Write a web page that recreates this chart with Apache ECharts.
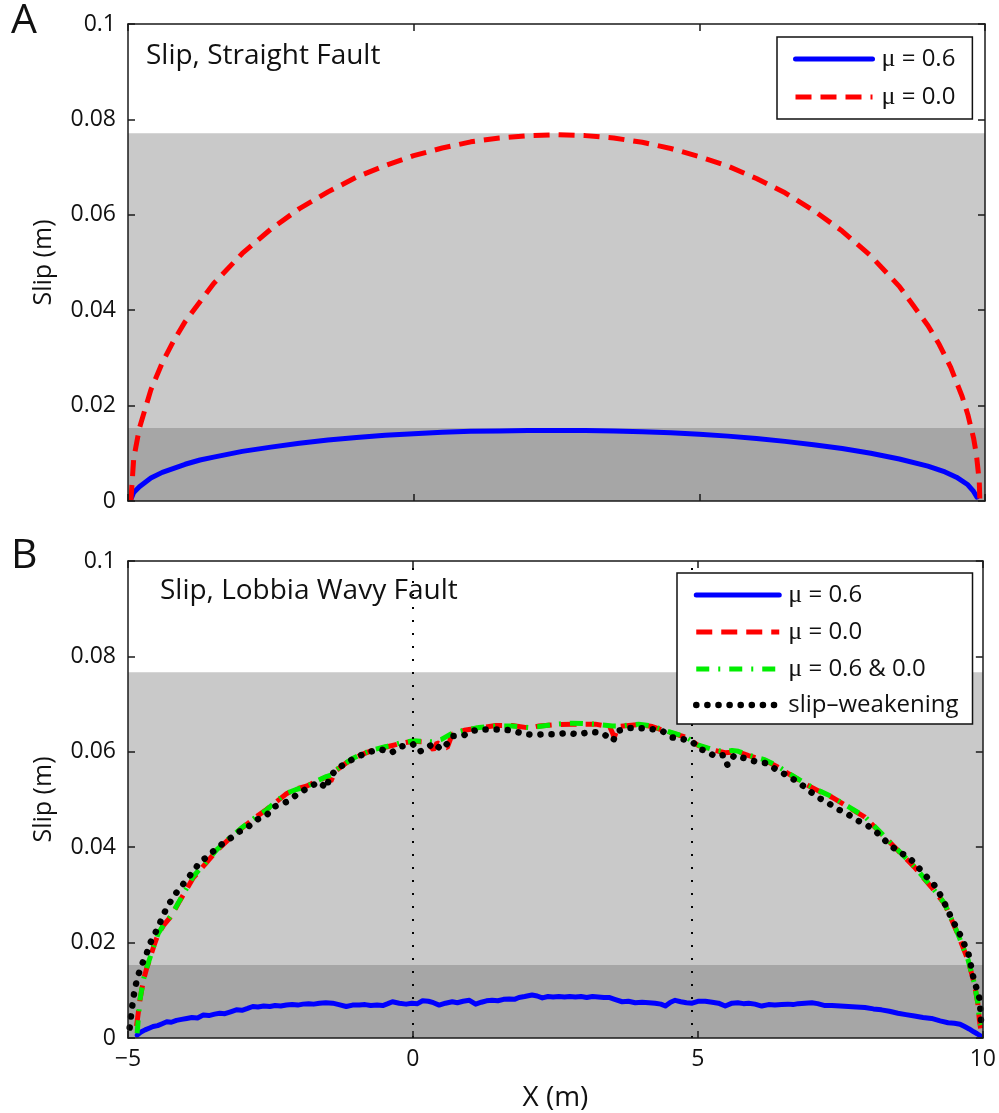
<!DOCTYPE html>
<html>
<head>
<meta charset="utf-8">
<script src="https://cdn.jsdelivr.net/npm/echarts@6/dist/echarts.min.js"></script>
<style>
html, body { margin: 0; padding: 0; background: #ffffff; }
#chart { width: 999px; height: 1113px; }
</style>
</head>
<body>
<div id="chart"></div>
<script>
// ---- Data (x in m, slip in m) ----
const xTicks = [-5, 0, 5, 10];
const yTicks = [0, 0.02, 0.04, 0.06, 0.08, 0.1];

// Panel A: straight fault
const straightMu06 = [[-4.94,0.0006],[-4.9,0.0018],[-4.8,0.0030],[-4.6,0.0048],[-4.4,0.0060],[-4.0,0.0077],[-3.74,0.0086],[-3.5,0.0092],[-3.0,0.0104],[-2.5,0.0113],[-2.0,0.0121],[-1.5,0.0128],[-1.0,0.0133],[-0.5,0.0138],[0,0.0141],[0.5,0.0144],[1,0.0146],[1.5,0.0147],[2,0.0148],[2.5,0.0148],[3,0.0148],[3.5,0.0147],[4,0.0145],[4.5,0.0143],[5,0.0140],[5.5,0.0136],[6,0.0131],[6.5,0.0125],[7,0.0118],[7.5,0.0110],[8,0.0100],[8.5,0.0088],[9,0.0073],[9.3,0.0061],[9.5,0.0050],[9.7,0.0034],[9.8,0.0020],[9.86,0.0008]];
const straightMu00 = [[-4.95,0.0],[-4.9,0.0089],[-4.8,0.0153],[-4.6,0.0233],[-4.4,0.0290],[-4.2,0.0336],[-4.0,0.0376],[-3.5,0.0456],[-3.0,0.0519],[-2.5,0.0570],[-2.0,0.0613],[-1.5,0.0648],[-1.0,0.0679],[-0.5,0.0703],[0,0.0724],[0.5,0.0740],[1,0.0753],[1.5,0.0761],[2,0.0766],[2.5,0.0768],[3,0.0766],[3.5,0.0761],[4,0.0752],[4.5,0.0739],[5,0.0722],[5.5,0.0702],[6,0.0676],[6.5,0.0646],[7,0.0609],[7.5,0.0566],[8,0.0514],[8.5,0.0450],[9,0.0368],[9.2,0.0328],[9.4,0.0280],[9.6,0.0219],[9.7,0.0181],[9.8,0.0132],[9.85,0.0097],[9.9,0.0040],[9.91,0.0]];

// Panel B: Lobbia wavy fault
const wavyMu06 = [[-4.84,0.0006],[-4.78,0.0012],[-4.7,0.0017],[-4.62,0.0021],[-4.56,0.0024],[-4.48,0.0026],[-4.4,0.0030],[-4.32,0.0034],[-4.24,0.0033],[-4.15,0.0037],[-4.06,0.0039],[-3.97,0.0041],[-3.88,0.0043],[-3.78,0.0042],[-3.68,0.0048],[-3.58,0.0047],[-3.48,0.0050],[-3.39,0.0052],[-3.3,0.0051],[-3.2,0.0055],[-3.1,0.0059],[-3.0,0.0058],[-2.9,0.0062],[-2.81,0.0066],[-2.72,0.0065],[-2.62,0.0067],[-2.51,0.0066],[-2.42,0.0068],[-2.32,0.0067],[-2.22,0.0069],[-2.12,0.0070],[-2.02,0.0069],[-1.93,0.0071],[-1.83,0.0072],[-1.74,0.0071],[-1.64,0.0073],[-1.53,0.0074],[-1.41,0.0073],[-1.3,0.0070],[-1.17,0.0066],[-1.06,0.0069],[-0.94,0.0069],[-0.84,0.0070],[-0.74,0.0068],[-0.63,0.0069],[-0.53,0.0068],[-0.44,0.0072],[-0.36,0.0076],[-0.24,0.0073],[-0.12,0.0071],[-0.02,0.0073],[0.08,0.0072],[0.17,0.0078],[0.27,0.0077],[0.36,0.0074],[0.46,0.0069],[0.57,0.0073],[0.69,0.0076],[0.78,0.0074],[0.88,0.0077],[0.99,0.0079],[1.1,0.0071],[1.2,0.0075],[1.29,0.0078],[1.39,0.0079],[1.49,0.0078],[1.59,0.0081],[1.69,0.0082],[1.78,0.0081],[1.86,0.0085],[1.96,0.0087],[2.09,0.0090],[2.18,0.0088],[2.27,0.0084],[2.37,0.0087],[2.46,0.0086],[2.56,0.0087],[2.66,0.0086],[2.75,0.0087],[2.85,0.0086],[2.95,0.0087],[3.05,0.0085],[3.15,0.0087],[3.25,0.0086],[3.35,0.0085],[3.44,0.0085],[3.54,0.0081],[3.67,0.0076],[3.78,0.0077],[3.9,0.0074],[4.02,0.0075],[4.14,0.0074],[4.25,0.0073],[4.35,0.0071],[4.43,0.0067],[4.52,0.0075],[4.6,0.0079],[4.7,0.0076],[4.8,0.0074],[4.9,0.0073],[5.0,0.0077],[5.13,0.0077],[5.25,0.0075],[5.36,0.0073],[5.48,0.0067],[5.6,0.0073],[5.7,0.0074],[5.8,0.0072],[5.89,0.0073],[6.0,0.0071],[6.12,0.0067],[6.24,0.0070],[6.35,0.0069],[6.47,0.0070],[6.58,0.0071],[6.67,0.0070],[6.76,0.0072],[6.88,0.0073],[7.0,0.0074],[7.1,0.0072],[7.23,0.0068],[7.35,0.0068],[7.5,0.0067],[7.64,0.0066],[7.78,0.0065],[7.93,0.0064],[8.08,0.0061],[8.22,0.0059],[8.36,0.0056],[8.51,0.0052],[8.65,0.0049],[8.8,0.0046],[8.95,0.0043],[9.1,0.0041],[9.25,0.0036],[9.39,0.0032],[9.5,0.0031],[9.6,0.0029],[9.68,0.0024],[9.76,0.0019],[9.84,0.0013],[9.9,0.0009],[9.95,0.0005]];
const wavyMu00 = [[-4.85,0.0025],[-4.79,0.0080],[-4.73,0.0121],[-4.67,0.0147],[-4.61,0.0169],[-4.54,0.0195],[-4.47,0.0218],[-4.37,0.0237],[-4.26,0.0253],[-4.17,0.0271],[-4.09,0.0288],[-3.97,0.0312],[-3.86,0.0335],[-3.65,0.0364],[-3.45,0.0392],[-3.22,0.0418],[-2.98,0.0442],[-2.78,0.0461],[-2.57,0.0479],[-2.4,0.0495],[-2.22,0.0512],[-2.05,0.0522],[-1.87,0.0528],[-1.7,0.0538],[-1.52,0.0547],[-1.44,0.0538],[-1.41,0.0534],[-1.36,0.0560],[-1.2,0.0574],[-1.06,0.0585],[-0.88,0.0595],[-0.71,0.0603],[-0.47,0.0610],[-0.24,0.0617],[0.0,0.0622],[0.2,0.0621],[0.3,0.0612],[0.36,0.0604],[0.42,0.0619],[0.55,0.0610],[0.6,0.0608],[0.69,0.0637],[0.9,0.0645],[1.16,0.0650],[1.45,0.0655],[1.74,0.0655],[2.04,0.0650],[2.21,0.0654],[2.5,0.0657],[2.79,0.0658],[3.0,0.0658],[3.2,0.0658],[3.45,0.0653],[3.5,0.0640],[3.53,0.0630],[3.58,0.0645],[3.61,0.0653],[3.96,0.0657],[4.2,0.0653],[4.49,0.0641],[4.78,0.0631],[5.01,0.0613],[5.25,0.0604],[5.48,0.0598],[5.71,0.0600],[5.89,0.0592],[6.18,0.0582],[6.4,0.0568],[6.59,0.0554],[6.94,0.0529],[7.15,0.0516],[7.35,0.0505],[7.64,0.0484],[7.93,0.0463],[8.22,0.0428],[8.51,0.0393],[8.8,0.0358],[9.1,0.0316],[9.33,0.0281],[9.56,0.0218],[9.74,0.0163],[9.85,0.0114],[9.91,0.0074],[9.94,0.0037],[9.96,0.0020]];
const wavyMixed = [[-4.84,0.0010],[-4.79,0.0080],[-4.73,0.0122],[-4.67,0.0148],[-4.61,0.0170],[-4.54,0.0196],[-4.47,0.0219],[-4.37,0.0238],[-4.26,0.0254],[-4.17,0.0272],[-4.09,0.0289],[-3.97,0.0314],[-3.86,0.0338],[-3.65,0.0366],[-3.45,0.0394],[-3.22,0.0419],[-2.98,0.0443],[-2.78,0.0461],[-2.57,0.0478],[-2.4,0.0496],[-2.22,0.0513],[-2.05,0.0521],[-1.87,0.0527],[-1.7,0.0538],[-1.52,0.0548],[-1.41,0.0552],[-1.35,0.0562],[-1.2,0.0575],[-1.06,0.0586],[-0.88,0.0596],[-0.71,0.0604],[-0.47,0.0611],[-0.24,0.0618],[0.0,0.0623],[0.2,0.0622],[0.34,0.0621],[0.5,0.0626],[0.69,0.0639],[0.9,0.0645],[1.16,0.0651],[1.45,0.0654],[1.74,0.0654],[2.04,0.0651],[2.21,0.0653],[2.5,0.0658],[2.79,0.0660],[3.0,0.0659],[3.2,0.0658],[3.5,0.0654],[3.61,0.0654],[3.96,0.0658],[4.2,0.0654],[4.49,0.0642],[4.78,0.0632],[5.01,0.0614],[5.25,0.0605],[5.48,0.0600],[5.6,0.0603],[5.71,0.0601],[5.89,0.0593],[6.18,0.0583],[6.4,0.0570],[6.59,0.0555],[6.94,0.0530],[7.15,0.0517],[7.35,0.0506],[7.64,0.0485],[7.93,0.0464],[8.22,0.0429],[8.51,0.0394],[8.8,0.0359],[9.1,0.0317],[9.33,0.0282],[9.56,0.0219],[9.74,0.0164],[9.85,0.0115],[9.91,0.0075],[9.94,0.0038],[9.96,0.0027]];
const wavySlipWeakening = [[-4.97,0.0022],[-4.96,0.0031],[-4.94,0.0055],[-4.88,0.0104],[-4.82,0.0132],[-4.76,0.0153],[-4.67,0.0178],[-4.61,0.0199],[-4.51,0.0223],[-4.43,0.0244],[-4.34,0.0268],[-4.24,0.0289],[-4.12,0.0310],[-3.98,0.0330],[-3.86,0.0349],[-3.74,0.0368],[-3.56,0.0385],[-3.42,0.0401],[-3.24,0.0415],[-3.10,0.0429],[-2.89,0.0443],[-2.75,0.0457],[-2.57,0.0467],[-2.43,0.0485],[-2.22,0.0495],[-2.05,0.0509],[-1.81,0.0527],[-1.64,0.0537],[-1.52,0.0523],[-1.46,0.0548],[-1.32,0.0565],[-1.14,0.0579],[-0.97,0.0590],[-0.76,0.0600],[-0.56,0.0605],[-0.38,0.0598],[-0.21,0.0611],[0.0,0.0616],[0.11,0.0600],[0.26,0.0609],[0.37,0.0619],[0.49,0.0605],[0.58,0.0614],[0.69,0.0633],[0.9,0.0635],[0.99,0.0642],[1.16,0.0647],[1.38,0.0647],[1.57,0.0647],[1.76,0.0644],[1.95,0.0637],[2.14,0.0636],[2.33,0.0637],[2.53,0.0637],[2.72,0.0640],[2.91,0.0636],[3.10,0.0642],[3.31,0.0640],[3.47,0.0627],[3.51,0.0623],[3.60,0.0644],[3.79,0.0650],[3.96,0.0650],[4.17,0.0648],[4.37,0.0644],[4.55,0.0630],[4.69,0.0628],[4.90,0.0621],[5.04,0.0605],[5.16,0.0602],[5.30,0.0590],[5.45,0.0593],[5.52,0.0572],[5.64,0.0593],[5.83,0.0586],[6.03,0.0579],[6.21,0.0576],[6.38,0.0562],[6.56,0.0551],[6.75,0.0537],[6.91,0.0523],[7.08,0.0506],[7.26,0.0495],[7.43,0.0481],[7.61,0.0471],[7.78,0.0457],[7.96,0.0447],[8.13,0.0432],[8.31,0.0411],[8.51,0.0391],[8.69,0.0380],[8.83,0.0363],[8.98,0.0342],[9.13,0.0324],[9.24,0.0303],[9.33,0.0282],[9.45,0.0251],[9.56,0.0226],[9.62,0.0212],[9.68,0.0195],[9.74,0.0181],[9.77,0.0164],[9.83,0.0129],[9.87,0.0111],[9.90,0.0101],[9.94,0.0083],[9.96,0.0055],[9.97,0.0030]];

// Shaded slip ranges [lower band top, upper band top]
const bandsStraight = [0.0153, 0.0771];
const bandsWavy = [0.0153, 0.0767];
// Vertical reference lines on the wavy fault
const guideX = [0, 4.9];

// Series names
const NAME_MU06 = 'μ = 0.6';
const NAME_MU00 = 'μ = 0.0';
const NAME_MIX = 'μ = 0.6 & 0.0';
const NAME_SW = 'slip–weakening';

// ---- Styling ----
const FONT = 'Open Sans';
const AXIS_COLOR = '#1a1a1a';
const DARK_GRAY = '#a6a6a6';
const LIGHT_GRAY = '#c9c9c9';
const BLUE = '#0000ff', RED = '#ff0000', GREEN = '#00ee00', BLACK = '#000000';

const STYLE_MU06 = { color: BLUE, width: 5, type: 'solid', cap: 'round', join: 'round' };
const STYLE_MU00 = { color: RED, width: 5, type: [16, 9] };
const STYLE_MIX = { color: GREEN, width: 5, type: [13, 9, 2, 9] };
const STYLE_SW = { color: BLACK, width: 6.5, type: [0.1, 11], cap: 'round' };

const chart = echarts.init(document.getElementById('chart'), null, { renderer: 'canvas' });

function xAxisDef(gridIndex, position, showLabels) {
  return {
    type: 'value', gridIndex, position,
    min: xTicks[0], max: xTicks[xTicks.length - 1], interval: xTicks[1] - xTicks[0],
    z: 10,
    axisLine: { show: true, onZero: false, lineStyle: { color: AXIS_COLOR, width: 1.5 } },
    axisTick: { show: true, inside: true, length: 7, lineStyle: { color: AXIS_COLOR, width: 1.5 } },
    splitLine: { show: false },
    axisLabel: {
      show: showLabels, margin: 10, color: '#111', fontFamily: FONT, fontSize: 23,
      formatter: v => (v < 0 ? '\u2212' + Math.abs(v) : String(v))
    }
  };
}
function yAxisDef(gridIndex, position, showLabels) {
  return {
    type: 'value', gridIndex, position,
    min: yTicks[0], max: yTicks[yTicks.length - 1], interval: yTicks[1] - yTicks[0],
    z: 10,
    axisLine: { show: true, onZero: false, lineStyle: { color: AXIS_COLOR, width: 1.5 } },
    axisTick: { show: true, inside: true, length: 7, lineStyle: { color: AXIS_COLOR, width: 1.5 } },
    splitLine: { show: false },
    axisLabel: {
      show: showLabels, margin: 12, color: '#111', fontFamily: FONT, fontSize: 23,
      formatter: v => String(+(+v).toFixed(2))
    }
  };
}

const yA = yAxisDef(0, 'left', true);
yA.name = 'Slip (m)';
const yB = yAxisDef(1, 'left', true);
yB.name = 'Slip (m)';
[yA, yB].forEach(a => {
  a.nameLocation = 'middle';
  a.nameRotate = 90;
  a.nameGap = 72;
  a.nameTextStyle = { fontFamily: FONT, fontSize: 25, color: '#111' };
});
const xB = xAxisDef(1, 'bottom', true);
xB.name = 'X (m)';
xB.nameLocation = 'middle';
xB.nameGap = 46;
xB.nameTextStyle = { fontFamily: FONT, fontSize: 28, color: '#111' };

// Shaded slip bands, drawn under the curves
function bands(b) {
  return {
    silent: true,
    data: [
      [{ yAxis: 0, itemStyle: { color: DARK_GRAY } }, { yAxis: b[0] }],
      [{ yAxis: b[0], itemStyle: { color: LIGHT_GRAY } }, { yAxis: b[1] }]
    ]
  };
}

function curve(name, data, ai, lineStyle) {
  return {
    name, type: 'line', data, xAxisIndex: ai, yAxisIndex: ai,
    symbol: 'none', showSymbol: false, smooth: false,
    itemStyle: { color: lineStyle.color },
    lineStyle, emphasis: { disabled: true }
  };
}

const legendText = {
  fontFamily: FONT, fontSize: 24, color: '#111', lineHeight: 22, padding: [0, 0, 0, 4],
  rich: { mu: { fontFamily: 'Liberation Serif', fontSize: 26, color: '#111', lineHeight: 22 } }
};
const legendFormatter = n => (n.charAt(0) === 'μ' ? '{mu|μ}' + n.slice(1) : n);
const legendItem = (name, ls) => ({ name, lineStyle: { width: ls.width, type: ls.type, color: ls.color, cap: ls.cap || 'butt' } });

const blueA = curve(NAME_MU06, straightMu06, 0, STYLE_MU06);
blueA.markArea = bands(bandsStraight);
const blueB = curve(NAME_MU06, wavyMu06, 1, STYLE_MU06);
blueB.markArea = bands(bandsWavy);
blueB.markLine = {
  silent: true, symbol: ['none', 'none'], label: { show: false },
  lineStyle: { color: BLACK, width: 2, type: [2, 11] },
  data: guideX.map(x => ({ xAxis: x }))
};

const legendCommon = {
  orient: 'vertical', itemHeight: 22,
  backgroundColor: '#ffffff', borderColor: '#111', borderWidth: 1.5, borderRadius: 0,
  selectedMode: false, textStyle: legendText, formatter: legendFormatter, z: 20,
  itemStyle: { opacity: 0 }
};

const option = {
  animation: false,
  backgroundColor: '#ffffff',
  title: [
    { text: 'A', left: 11, top: 1, padding: 0, textStyle: { fontFamily: FONT, fontSize: 41, fontWeight: 'normal', color: '#111' } },
    { text: 'Slip, Straight Fault', left: 146, top: 42, padding: 0, textStyle: { fontFamily: FONT, fontSize: 28, fontWeight: 'normal', color: '#111' } },
    { text: 'B', left: 11, top: 536, padding: 0, textStyle: { fontFamily: FONT, fontSize: 41, fontWeight: 'normal', color: '#111' } },
    { text: 'Slip, Lobbia Wavy Fault', left: 160, top: 577, padding: 0, textStyle: { fontFamily: FONT, fontSize: 28, fontWeight: 'normal', color: '#111' } }
  ],
  grid: [
    { left: 128, top: 24, width: 857, height: 477, containLabel: false },
    { left: 128, top: 561, width: 857, height: 477, containLabel: false }
  ],
  // axes 0/1: bottom/left per panel; axes 2/3: mirrored top/right tick frames
  xAxis: [xAxisDef(0, 'bottom', false), xB, xAxisDef(0, 'top', false), xAxisDef(1, 'top', false)],
  yAxis: [yA, yB, yAxisDef(0, 'right', false), yAxisDef(1, 'right', false)],
  legend: [
    Object.assign({}, legendCommon, {
      data: [legendItem(NAME_MU06, STYLE_MU06), legendItem(NAME_MU00, STYLE_MU00)],
      left: 777, top: 37, itemWidth: 77, itemGap: 12, padding: [9, 17, 9, 16]
    }),
    Object.assign({}, legendCommon, {
      data: [legendItem(NAME_MU06, STYLE_MU06), legendItem(NAME_MU00, STYLE_MU00),
             legendItem(NAME_MIX, STYLE_MIX), legendItem(NAME_SW, STYLE_SW)],
      left: 677, top: 573, itemWidth: 83, itemGap: 11, padding: [9, 14, 7, 16]
    })
  ],
  series: [
    blueA,
    curve(NAME_MU00, straightMu00, 0, STYLE_MU00),
    blueB,
    curve(NAME_MU00, wavyMu00, 1, STYLE_MU00),
    curve(NAME_MIX, wavyMixed, 1, STYLE_MIX),
    curve(NAME_SW, wavySlipWeakening, 1, STYLE_SW)
  ]
};

chart.setOption(option);
</script>
</body>
</html>
